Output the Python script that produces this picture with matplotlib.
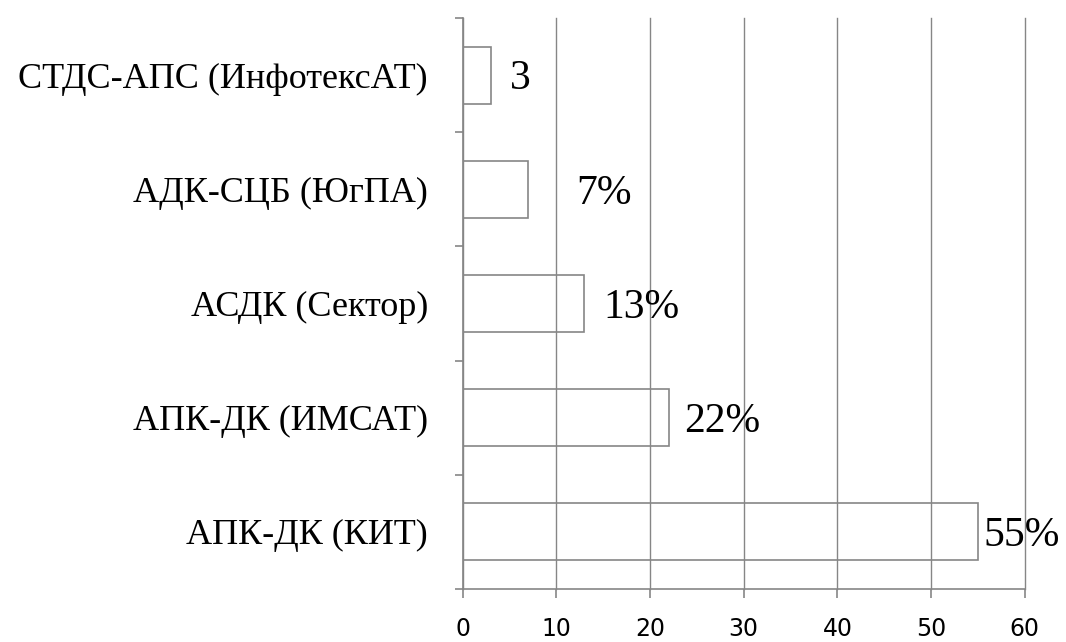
import matplotlib
matplotlib.use('Agg')
import matplotlib.pyplot as plt
import numpy as np

# data, bottom to top
categories = ['АПК-ДК (КИТ)', 'АПК-ДК (ИМСАТ)', 'АСДК (Сектор)',
              'АДК-СЦБ (ЮгПА)', 'СТДС-АПС (ИнфотексАТ)']
values = [55, 22, 13, 7, 3]
value_labels = ['55%', '22%', '13%', '7%', '3']
x_ticks = [0, 10, 20, 30, 40, 50, 60]

# label offsets from bar end, in pixels (labels in the original sit irregularly)
label_offsets = [6, 15, 19, 48, 19]

grey = '#868686'

fig = plt.figure(figsize=(10.66, 6.42), dpi=100)
ax = fig.add_axes([0.434, 0.0826, 0.5273, 0.8894])

y = np.arange(len(categories))
ax.set_axisbelow(True)
ax.xaxis.grid(True, color=grey, linewidth=1.0)
ax.barh(y, values, height=0.5, facecolor='none', edgecolor=grey, linewidth=1.2)

for yi, v, lab, off in zip(y, values, value_labels, label_offsets):
    ax.annotate(lab, xy=(v, yi), xytext=(off * 0.72, -3), textcoords='offset points',
                ha='left', va='center', fontsize=30, family='Liberation Serif',
                color='black')

ax.set_xlim(0, 60)
ax.set_ylim(-0.5, len(categories) - 0.5)
ax.set_xticks(x_ticks)
ax.set_xticklabels([str(t) for t in x_ticks], fontsize=17, family='DejaVu Sans')

ax.set_yticks(y)
ax.set_yticklabels(categories, fontsize=26, family='Liberation Serif')
ax.set_yticks(np.arange(-0.5, len(categories)), minor=True)
ax.tick_params(axis='y', which='major', length=0, pad=25)
ax.tick_params(axis='y', which='minor', length=6, color=grey, width=1.2)
ax.tick_params(axis='x', which='major', length=6.5, color=grey, width=1.2, pad=14)

for gl in ax.get_xgridlines():
    gl.set_clip_on(False)

for side in ['top', 'right']:
    ax.spines[side].set_visible(False)
for side in ['left', 'bottom']:
    ax.spines[side].set_color(grey)
    ax.spines[side].set_linewidth(1.2)

fig.savefig('out.png', dpi=100)
